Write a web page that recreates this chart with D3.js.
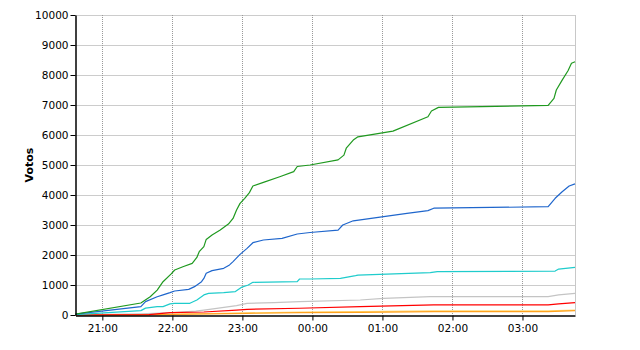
<!DOCTYPE html>
<html>
<head>
<meta charset="utf-8">
<script src="https://cdn.jsdelivr.net/npm/d3@7/dist/d3.min.js"></script>
<style>
  body { margin: 0; background: #fff; }
  svg { display: block; font-family: Tahoma, "DejaVu Sans", sans-serif; }
</style>
</head>
<body>
<div id="chart"></div>
<script>
// Votes counted over the night (cumulative)
const yTicks = [0, 1000, 2000, 3000, 4000, 5000, 6000, 7000, 8000, 9000, 10000];
const xTickLabels = ['21:00', '22:00', '23:00', '00:00', '01:00', '02:00', '03:00'];

const greenTimes = ['20:37','21:33','21:41','21:47','21:52','21:59','22:02','22:09','22:17','22:21','22:23','22:27','22:29','22:34','22:41','22:48','22:52','22:55','22:58','23:02','23:06','23:09','23:18','23:32','23:44','23:47','23:58','00:22','00:27','00:29','00:35','00:39','01:09','01:39','01:42','01:48','03:22','03:27','03:29','03:34','03:39','03:42','03:45'];
const greenVotes = [30,400,610,830,1110,1370,1500,1610,1720,1920,2110,2280,2520,2670,2830,3030,3220,3500,3720,3890,4080,4300,4420,4610,4780,4950,5000,5170,5330,5560,5830,5940,6130,6610,6800,6920,6990,7220,7500,7830,8140,8390,8440];

const blueTimes = ['20:37','21:33','21:37','21:47','21:52','21:58','22:02','22:14','22:19','22:25','22:27','22:29','22:34','22:44','22:49','22:52','22:58','23:04','23:09','23:18','23:34','23:47','23:58','00:22','00:26','00:35','01:01','01:21','01:39','01:44','03:22','03:28','03:34','03:40','03:45'];
const blueVotes = [30,280,445,610,670,745,800,855,945,1110,1220,1390,1480,1555,1670,1780,2020,2220,2410,2500,2555,2700,2750,2830,3000,3140,3280,3390,3480,3560,3610,3890,4110,4300,4370];

const cyanTimes = ['20:37','21:33','21:37','21:47','21:52','21:58','22:02','22:15','22:21','22:27','22:31','22:44','22:54','22:59','23:05','23:09','23:47','23:49','23:58','00:24','00:37','00:39','01:41','01:47','03:28','03:31','03:45'];
const cyanVotes = [15,145,230,280,280,370,390,390,500,670,720,745,780,920,1000,1090,1110,1200,1200,1220,1310,1330,1410,1445,1465,1530,1590];

const grayTimes = ['20:37','21:33','22:00','22:20','22:27','22:38','22:55','23:04','23:27','23:49','00:41','01:01','01:41','03:22','03:31','03:45'];
const grayVotes = [5,40,80,130,165,220,310,390,410,445,500,555,610,610,670,720];

const redTimes = ['20:37','21:40','21:58','22:27','22:55','23:04','23:49','00:41','01:44','03:22','03:31','03:45'];
const redVotes = [0,10,80,100,165,190,225,280,335,335,370,410];

const yellowTimes = ['20:37','21:30','22:00','22:30','23:04','23:49','00:41','01:44','03:22','03:45'];
const yellowVotes = [0,10,25,45,70,95,110,135,140,165];

const orangeTimes = ['20:37','21:30','22:00','22:30','23:04','23:49','00:41','01:44','03:22','03:45'];
const orangeVotes = [0,5,20,35,55,80,90,110,115,145];

const seriesNames = ['yellow', 'gray', 'orange', 'red', 'cyan', 'blue', 'green'];
const seriesColors = ['#ffd873', '#c4c4c4', '#ffa21f', '#ff0000', '#1fcccc', '#1f66cc', '#1f991f'];
const seriesTimes = [yellowTimes, grayTimes, orangeTimes, redTimes, cyanTimes, blueTimes, greenTimes];
const seriesVotes = [yellowVotes, grayVotes, orangeVotes, redVotes, cyanVotes, blueVotes, greenVotes];

const width = 640, height = 350;
const margin = { top: 15, right: 65, bottom: 35, left: 75.5 };
const fontStack = 'Tahoma, "DejaVu Sans", sans-serif';

// times after midnight belong to the next day
function toDate(hhmm) {
  const [h, m] = hhmm.split(':').map(Number);
  return new Date(2000, 0, h < 12 ? 2 : 1, h, m);
}

const svg = d3.select('#chart').append('svg')
  .attr('width', width)
  .attr('height', height);

const x = d3.scaleTime()
  .domain([toDate('20:37'), toDate('03:45')])
  .range([margin.left, width - margin.right]);

const y = d3.scaleLinear()
  .domain([0, 10000])
  .range([height - margin.bottom, margin.top]);

const xTickDates = xTickLabels.map(toDate);

// grid
const grid = svg.append('g').attr('class', 'grid');
grid.selectAll('.hgrid')
  .data(yTicks.filter(d => d > 0))
  .join('line')
  .attr('x1', margin.left)
  .attr('x2', width - margin.right)
  .attr('y1', d => Math.round(y(d)) + 0.5)
  .attr('y2', d => Math.round(y(d)) + 0.5)
  .attr('stroke', '#999')
  .attr('stroke-dasharray', '1,1');

grid.selectAll('.vgrid')
  .data(xTickDates)
  .join('line')
  .attr('x1', d => Math.round(x(d)) + 0.5)
  .attr('x2', d => Math.round(x(d)) + 0.5)
  .attr('y1', margin.top)
  .attr('y2', height - margin.bottom)
  .attr('stroke', '#999')
  .attr('stroke-dasharray', '1,1');

// right border
svg.append('line')
  .attr('x1', width - margin.right + 0.5)
  .attr('x2', width - margin.right + 0.5)
  .attr('y1', margin.top)
  .attr('y2', height - margin.bottom)
  .attr('stroke', '#c8c8c8');

// lines
const line = d3.line()
  .x(d => x(d[0]))
  .y(d => y(d[1]));

seriesNames.forEach((name, i) => {
  const pts = seriesTimes[i].map((t, j) => [toDate(t), seriesVotes[i][j]]);
  svg.append('path')
    .datum(pts)
    .attr('class', 'series-' + name)
    .attr('fill', 'none')
    .attr('stroke', seriesColors[i])
    .attr('stroke-width', 1.2)
    .attr('stroke-linejoin', 'round')
    .attr('d', line);
});

// axes
const yAxis = svg.append('g')
  .attr('transform', `translate(${margin.left},0)`)
  .call(d3.axisLeft(y).tickValues(yTicks).tickFormat(d3.format('d'))
    .tickSize(5).tickPadding(2).tickSizeOuter(0));

const xAxis = svg.append('g')
  .attr('transform', `translate(0,${height - margin.bottom + 0.5})`)
  .call(d3.axisBottom(x).tickValues(xTickDates).tickFormat((d, i) => xTickLabels[i])
    .tickSize(5).tickPadding(4).tickSizeOuter(0));

[yAxis, xAxis].forEach(ax => {
  ax.select('.domain').attr('stroke', '#000').attr('stroke-width', 1.5);
  ax.selectAll('.tick line').attr('stroke', '#000');
  ax.selectAll('.tick text')
    .attr('fill', '#000')
    .style('font-size', '10.5px')
    .style('font-family', fontStack);
});

// y label
svg.append('text')
  .attr('transform', `translate(33, ${(margin.top + height - margin.bottom) / 2}) rotate(-90)`)
  .attr('text-anchor', 'middle')
  .style('font-size', '11px')
  .style('font-weight', 'bold')
  .style('font-family', fontStack)
  .text('Votos');
</script>
</body>
</html>
